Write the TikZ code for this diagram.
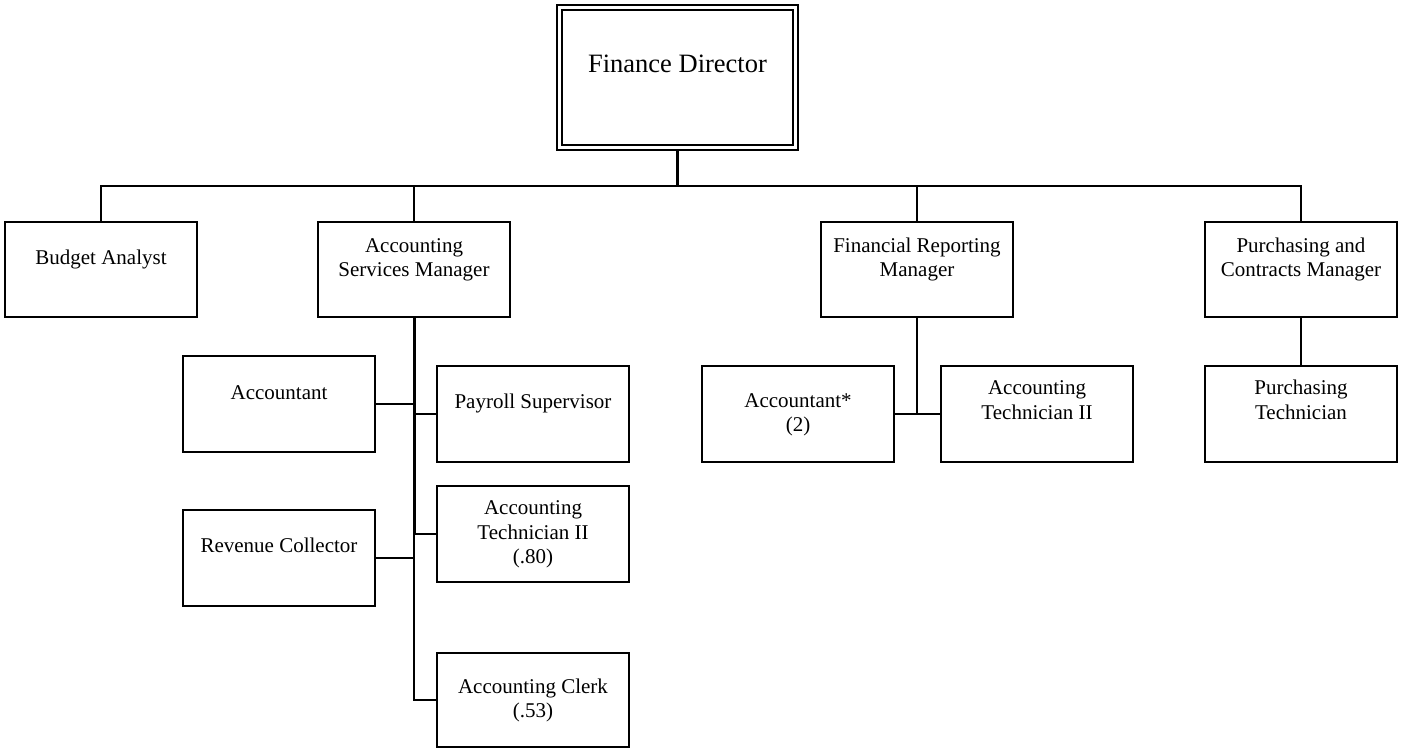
\documentclass[tikz,border=0pt]{standalone}
\usepackage{fontspec}
\setmainfont{Liberation Serif}
\newcommand\mylines[1]{\begin{tabular}[t]{@{}c@{}}#1\end{tabular}}
\begin{document}
\begin{tikzpicture}[x=1pt,y=-1pt,
  box/.style={draw, line width=1.5pt, rectangle, inner sep=0pt, outer sep=0pt,
    minimum width=192pt, minimum height=96pt, anchor=north west},
  topbox/.style={box, minimum height=95pt},
  lbl/.style={anchor=base, inner sep=0pt, font=\fontsize{21}{24.5}\selectfont},
  conn/.style={line width=2pt},
  trunk/.style={line width=3pt}]
\useasboundingbox (0,0) rectangle (1404,749);

% Finance Director
\node[box, double, double distance=3.5pt, line width=1.6pt,
  minimum width=236pt, minimum height=140pt, anchor=center] (fd) at (677.5,77.5) {};
\node[lbl, font=\fontsize{26.5}{30}\selectfont] (fdt) at (677.5,72.5) {Finance Director};
\coordinate (bar) at (677.5,186);

% level 1
\node[topbox] (ba)  at (5,222) {};
\node[topbox] (asm) at (318,222) {};
\node[topbox] (frm) at (821,222) {};
\node[topbox] (pcm) at (1205,222) {};

% accounting services staff
\node[box] (acc) at (183,356) {};
\node[box] (rev) at (183,510) {};
\node[box] (pay) at (437,366) {};
\node[box] (tec) at (437,486) {};
\node[box, minimum height=94pt] (clk) at (437,653) {};

% financial reporting staff
\node[box] (acs) at (702,366) {};
\node[box] (tc2) at (941,366) {};

% purchasing staff
\node[box] (pt) at (1205,366) {};

% labels
\node[lbl] (bat)  at (101,264) {Budget Analyst};
\node[lbl] (asmt) at (414,252) {\mylines{Accounting\\Services Manager}};
\node[lbl] (frmt) at (917,252) {\mylines{Financial Reporting\\Manager}};
\node[lbl] (pcmt) at (1301,252) {\mylines{Purchasing and\\Contracts Manager}};
\node[lbl] (acct) at (279,399) {Accountant};
\node[lbl] (payt) at (533,408) {Payroll Supervisor};
\node[lbl] (tect) at (533,514.5) {\mylines{Accounting\\Technician II\\(.80)}};
\node[lbl] (revt) at (279,552) {Revenue Collector};
\node[lbl] (clkt) at (533,693) {\mylines{Accounting Clerk\\(.53)}};
\node[lbl] (acst) at (798,407) {\mylines{Accountant*\\(2)}};
\node[lbl] (tc2t) at (1037,394.5) {\mylines{Accounting\\Technician II}};
\node[lbl] (ptt)  at (1301,394.5) {\mylines{Purchasing\\Technician}};

% connectors
\draw[conn, line width=2.5pt] ([yshift=-3.35pt]fd.south) -- (bar);
\draw[conn] (ba.north) -- (ba.north |- bar) -- (pcm.north |- bar) -- (pcm.north);
\draw[conn] (asm.north) -- (asm.north |- bar);
\draw[conn] (frm.north) -- (frm.north |- bar);

\draw[trunk] (asm.south) -- (asm.south |- tec.west);
\draw[conn] (asm.south |- tec.west) -- (asm.south |- clk.west) -- (clk.west);
\draw[conn] (acc.east) -- (acc.east -| asm.south);
\draw[conn] (pay.west) -- (pay.west -| asm.south);
\draw[conn] (tec.west) -- (tec.west -| asm.south);
\draw[conn] (rev.east) -- (rev.east -| asm.south);

\draw[conn] (frm.south) -- (frm.south |- acs.east);
\draw[conn] (acs.east) -- (tc2.west);

\draw[conn] (pcm.south) -- (pt.north);
\end{tikzpicture}
\end{document}
